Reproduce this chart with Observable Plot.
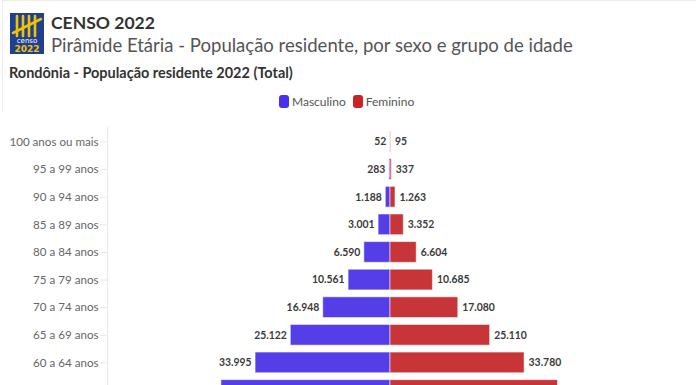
<!DOCTYPE html>
<html><head><meta charset="utf-8">
<script src="https://cdn.jsdelivr.net/npm/d3@7"></script>
<script src="https://cdn.jsdelivr.net/npm/@observablehq/plot@0.6"></script>
<style>
html,body{margin:0;padding:0;background:#fff;overflow:hidden;}
body{font-family:Lato,"Noto Sans",sans-serif;width:696px;height:385px;position:relative;}
#card{position:absolute;left:2px;top:0;width:700px;height:400px;border-top:1px solid #ececec;border-left:1px solid #ececec;}
#logo{position:absolute;left:10px;top:13px;}
#head{position:absolute;left:0;top:0;}
#legend{position:absolute;left:279px;top:94px;font-size:12px;color:#555;display:flex;align-items:center;white-space:nowrap;}
#legend .sw{display:inline-block;width:10px;height:13px;border-radius:3px;margin-right:3px;}
#legend .it{display:flex;align-items:center;margin-right:7px;}
#chart{position:absolute;left:0;top:112px;}
</style>
</head><body>
<div id="card"></div>
<svg id="head" width="696" height="90" font-family="Lato, 'Noto Sans', sans-serif">
  <text id="t1" x="51" y="29" font-size="18" font-weight="700" fill="#333">CENSO 2022</text>
  <text id="t2" x="51" y="52" font-size="19" fill="#555">Pirâmide Etária - População residente, por sexo e grupo de idade</text>
  <text id="t3" x="9" y="78" font-size="14" font-weight="700" fill="#333">Rondônia - População residente 2022 (Total)</text>
</svg>
<svg id="logo" width="34" height="41" viewBox="0 0 34 41">
  <rect width="34" height="41" fill="#1f3f8f"/>
  <g stroke="#f2c200" stroke-width="2.6" stroke-linecap="round">
    <line x1="7" y1="3" x2="7" y2="23"/>
    <line x1="13" y1="3" x2="13" y2="23"/>
    <line x1="19" y1="3" x2="19" y2="23"/>
    <line x1="25" y1="3" x2="25" y2="23"/>
    <line x1="3" y1="20" x2="31" y2="6"/>
  </g>
  <text x="17" y="30" text-anchor="middle" font-size="7" fill="#fff" font-family="DejaVu Sans">censo</text>
  <text x="17" y="39" text-anchor="middle" font-size="9" font-weight="700" fill="#f2c200" font-family="DejaVu Sans">2022</text>
</svg>
<div id="legend"></div>
<div id="chart"></div>
<script>
const ageGroups = ["100 anos ou mais","95 a 99 anos","90 a 94 anos","85 a 89 anos","80 a 84 anos","75 a 79 anos","70 a 74 anos","65 a 69 anos","60 a 64 anos","55 a 59 anos"];
const masculino = [52,283,1188,3001,6590,10561,16948,25122,33995,42600];
const feminino  = [95,337,1263,3352,6604,10685,17080,25110,33780,42200];
const sexes = ["Masculino","Feminino"];
const barColors = ["#553de8","#c83538"];
const swatchColors = ["#4a2ff0","#c82424"];
const xMax = 71300;

// fit header text widths to the reference
[["t1",104],["t2",522],["t3",284]].forEach(([id,w])=>{
  const el = document.getElementById(id);
  const fs = parseFloat(el.getAttribute("font-size"));
  const cur = el.getComputedTextLength();
  if (cur > 0) el.setAttribute("font-size", (fs*w/cur).toFixed(2));
});

const leg = document.getElementById("legend");
sexes.forEach((s,i)=>{
  const it = document.createElement("span"); it.className="it";
  it.innerHTML = `<span class="sw" style="background:${swatchColors[i]}"></span>${s}`;
  leg.appendChild(it);
});

const loc = d3.formatLocale({decimal:",",thousands:".",grouping:[3],currency:["R$",""]});
const fmt = loc.format(",d");

const data = ageGroups.map((a,i)=>({age:a, m:masculino[i], f:feminino[i]}));

const chart = Plot.plot({
  width: 696,
  height: 323,
  marginTop: 14.5,
  marginLeft: 107,
  marginRight: 23,
  marginBottom: 30,
  style: {fontFamily: "Lato, 'Noto Sans', sans-serif", background: "#fff"},
  x: {domain: [-xMax, xMax], axis: null},
  y: {domain: ageGroups, paddingInner: 0.25, paddingOuter: 0.168, round: false, label: null},
  marks: [
    Plot.ruleX([-xMax], {stroke: "#e8e8e8"}),
    Plot.axisY({tickSize: 7, tickPadding: 2, stroke: "#e8e8e8", fill: "#666", fontSize: 11.6, label: null}),
    Plot.barX(data, {y: "age", x1: 0, x2: d => -d.m, fill: barColors[0], stroke: "#fff", strokeOpacity: 0.55, strokeWidth: 1}),
    Plot.barX(data, {y: "age", x1: 0, x2: d => d.f, fill: barColors[1], stroke: "#fff", strokeOpacity: 0.55, strokeWidth: 1}),
    Plot.text(data, {y: "age", x: d => -d.m, text: d => fmt(d.m), textAnchor: "end", dx: -4, fill: "#3a3a3a", fontWeight: 700, fontSize: 10.4}),
    Plot.text(data, {y: "age", x: d => d.f, text: d => fmt(d.f), textAnchor: "start", dx: 4, fill: "#3a3a3a", fontWeight: 700, fontSize: 10.4})
  ]
});
document.getElementById("chart").appendChild(chart);
</script>
</body></html>
